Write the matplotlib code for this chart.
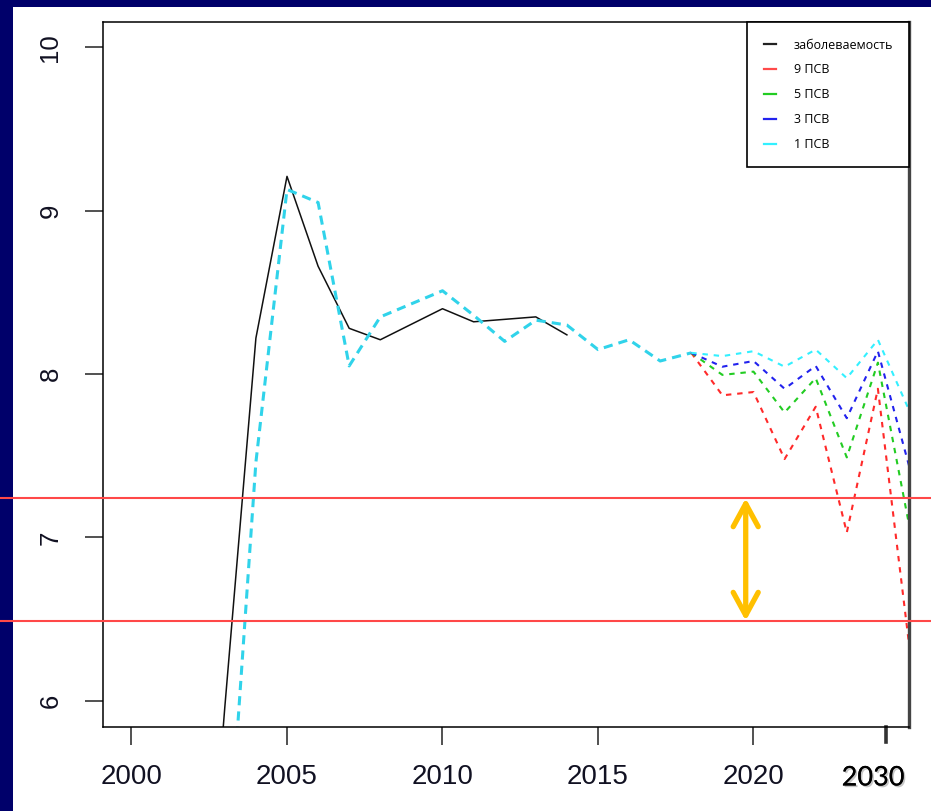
import matplotlib
matplotlib.use('Agg')
import matplotlib.pyplot as plt
import matplotlib.transforms as mtransforms
import matplotlib.patheffects as pe
from matplotlib.lines import Line2D
from matplotlib.patches import Rectangle

# observed incidence
years_obs = [2002, 2003, 2004, 2005, 2006, 2007, 2008, 2009, 2010, 2011, 2012, 2013, 2014]
incidence = [3.55, 5.96, 8.22, 9.21, 8.66, 8.28, 8.21, 8.305, 8.40, 8.32, 8.335, 8.35, 8.24]

# fitted model (1 ПСВ) over the history
years_fit = [2003, 2004, 2005, 2006, 2007, 2008, 2009, 2010, 2011, 2012, 2013, 2014, 2015, 2016, 2017, 2018]
fit_hist = [4.70, 7.46, 9.13, 9.05, 8.05, 8.35, 8.43, 8.51, 8.36, 8.20, 8.33, 8.30, 8.15, 8.21, 8.08, 8.13]

# forecasts
years_fc = [2018, 2019, 2020, 2021, 2022, 2023, 2024, 2025]
psv1 = [8.13, 8.11, 8.14, 8.045, 8.15, 7.975, 8.21, 7.78]
psv3 = [8.13, 8.045, 8.08, 7.91, 8.05, 7.73, 8.14, 7.44]
psv5 = [8.13, 7.995, 8.015, 7.765, 7.975, 7.49, 8.07, 7.08]
psv9 = [8.13, 7.87, 7.89, 7.48, 7.80, 7.03, 7.91, 6.35]

legend_labels = ['заболеваемость', '9 ПСВ', '5 ПСВ', '3 ПСВ', '1 ПСВ']
xticks = [2000, 2005, 2010, 2015, 2020]
yticks = [6, 7, 8, 9, 10]
band = [6.49, 7.24]

W, H = 931, 811
fig = plt.figure(figsize=(W / 100, H / 100), dpi=100)
fig.patch.set_facecolor('#00006a')
fig.add_artist(Rectangle((13 / W, 0), 1 - 13 / W, 1 - 7 / H, transform=fig.transFigure,
                         facecolor='white', edgecolor='none', zorder=-10))

ax = fig.add_axes([102.7 / W, 1 - 726.5 / H, (909.3 - 102.7) / W, (726.5 - 22.3) / H])
ax.set_xlim(1999.074, 2025.01)
ax.set_ylim(5.843, 10.153)

ax.plot(years_obs, incidence, color='#111111', lw=1.1)
ax.plot(years_fit, fit_hist, color='#30d3ea', lw=2.2, ls=(0, (3, 2)))
ax.plot(years_fc, psv9, color='#ff2a2a', lw=1.5, ls=(0, (2.6, 2.8)))
ax.plot(years_fc, psv5, color='#22cc22', lw=1.5, ls=(0, (2.6, 2.8)))
ax.plot(years_fc, psv3, color='#2222ee', lw=1.5, ls=(0, (2.6, 2.8)))
ax.plot(years_fc, psv1, color='#33f0ff', lw=1.5, ls=(0, (2.6, 2.8)))

for s in ['left', 'bottom', 'top']:
    ax.spines[s].set_linewidth(1.1)
ax.spines['right'].set_linewidth(2.4)
ax.spines['right'].set_color('#444444')

ax.set_xticks(xticks)
ax.set_yticks(yticks)
ax.tick_params(axis='both', direction='out', length=13, width=1.1, color='#222222')
ax.tick_params(axis='x', pad=14, labelsize=20, labelcolor='#111122')
ax.tick_params(axis='y', pad=16, labelsize=18.5, labelcolor='#111122')
for lab in ax.get_xticklabels() + ax.get_yticklabels():
    lab.set_family('Liberation Sans')
for lab in ax.get_yticklabels():
    lab.set_rotation(90)
    lab.set_va('center')

# hand-added "2030" tick
bx = mtransforms.blended_transform_factory(ax.transData, ax.transAxes)
ax.add_line(Line2D([2024.25, 2024.25], [0, -0.0216], transform=bx, color='#333333',
                   lw=2.6, clip_on=False))
ax.text(2023.85, -0.0731, '2030', transform=bx, ha='center', va='center', fontsize=19.5,
        family='Lato', color='black',
        path_effects=[pe.withSimplePatchShadow(offset=(1.2, -1.2), alpha=0.22), pe.Normal()])

# red horizontal lines across the whole slide
by = mtransforms.blended_transform_factory(fig.transFigure, ax.transData)
for v in band:
    fig.add_artist(Line2D([0, 1], [v, v], transform=by, color='#ff4848', lw=1.5, zorder=5))

ax.annotate('', xy=(2019.75, band[1]), xytext=(2019.75, band[0]),
            arrowprops=dict(arrowstyle='<->,head_length=1.1,head_width=0.6', color='#ffc000',
                            lw=3.8, mutation_scale=15, shrinkA=0, shrinkB=0,
                            capstyle='round', joinstyle='round'),
            annotation_clip=False)

handles = [Line2D([], [], color=c, lw=1.6) for c in
           ['#222222', '#ff4a4a', '#22cc22', '#2222ee', '#33f0ff']]
leg = ax.legend(handles, legend_labels, loc='upper right', bbox_to_anchor=(1, 1),
                borderaxespad=0, fancybox=False, framealpha=1, edgecolor='black',
                prop={'family': 'Open Sans', 'size': 9}, handlelength=1.0,
                handletextpad=1.4, labelspacing=0.95, borderpad=1.3)
leg.get_frame().set_linewidth(1.2)

fig.savefig('out.png', dpi=100)
